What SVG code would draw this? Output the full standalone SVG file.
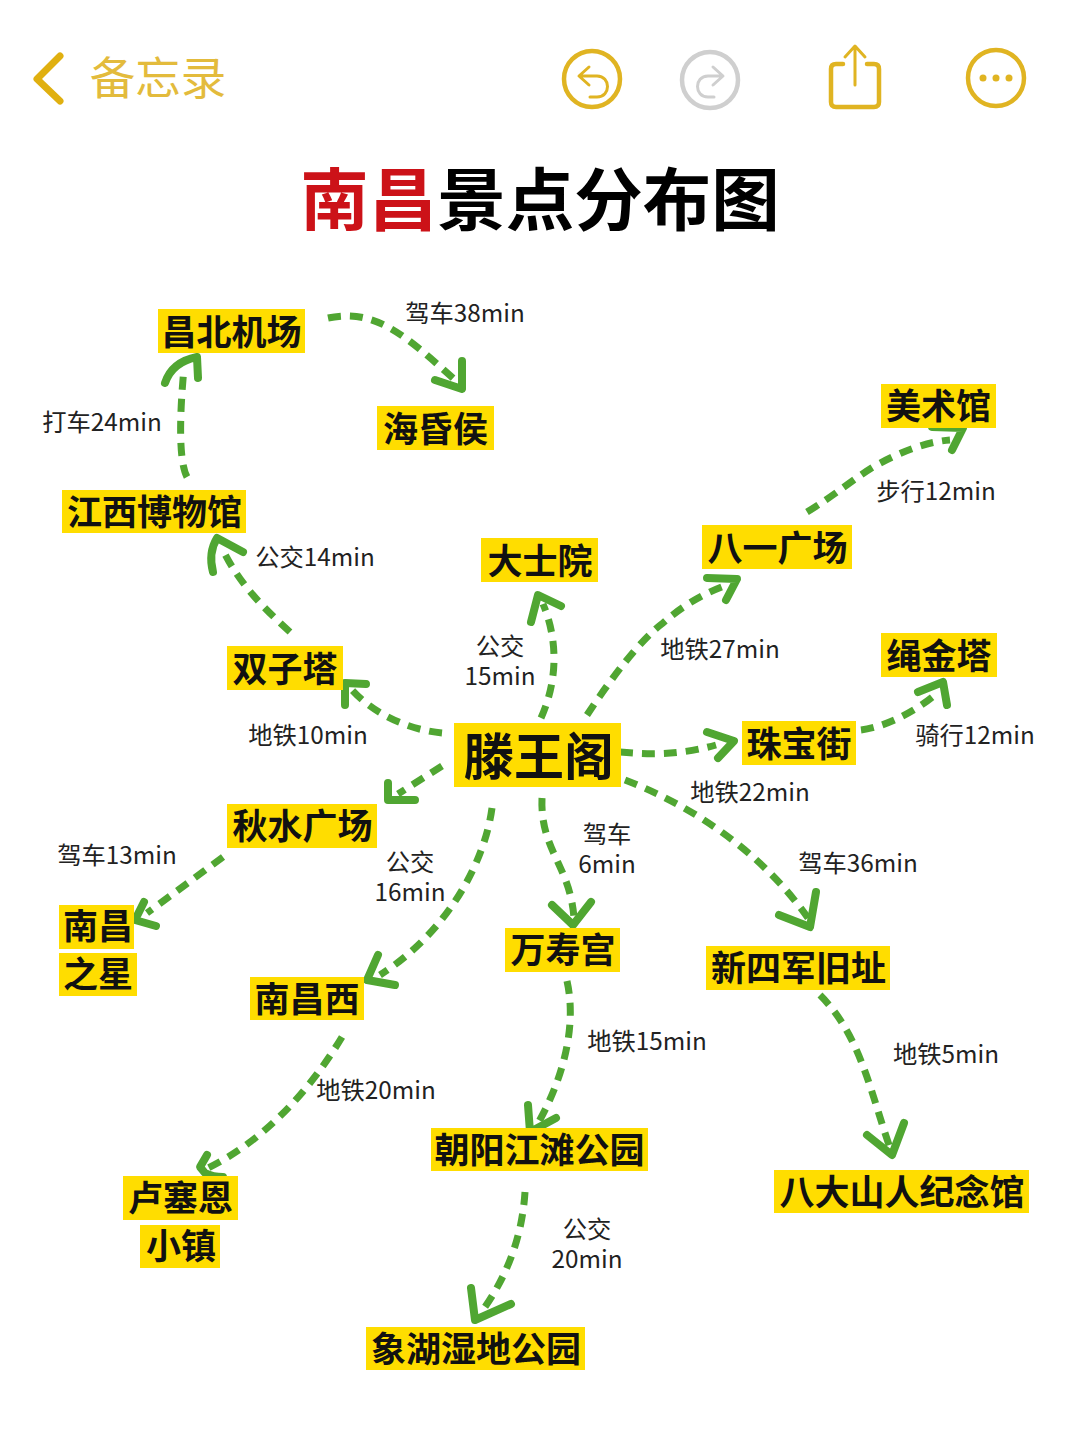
<svg xmlns="http://www.w3.org/2000/svg" width="1080" height="1440" viewBox="0 0 1080 1440">
<style>
text{font-family:"Noto Sans CJK SC","Noto Sans",sans-serif}
.n{font-size:35px;font-weight:700;fill:#111;text-anchor:middle}
.b{fill:#ffdd00}
.l{font-size:24.300px;fill:#222;text-anchor:middle}
.d{fill:none;stroke:#50a632;stroke-width:7;stroke-dasharray:13 9}
.h{fill:none;stroke:#50a632;stroke-width:8;stroke-linecap:round;stroke-linejoin:round}
.i{fill:none;stroke:#e0b422;stroke-width:4.500;stroke-linecap:round;stroke-linejoin:round}
.t{stroke-width:3}
.g{stroke:#cfcfcf}
</style>
<rect width="1080" height="1440" fill="#fff"/>
<g id="toolbar">
<path d="M60,56 L37,79 L60,101" fill="none" stroke="#e0b010" stroke-width="7" stroke-linecap="round" stroke-linejoin="round"/>
<text x="158" y="95" font-size="45.500" fill="#e3bb3c" text-anchor="middle">备忘录</text>
<circle cx="592" cy="79" r="28" class="i"/>
<path d="M589,67 L579,76 L589,85 M580,76 H597 C611,76 611,97 597,97 H590" class="i t"/>
<circle cx="710" cy="80" r="28" class="i g"/>
<path d="M713,67 L723,76 L713,85 M722,76 H708 C694,76 694,97 708,97 H714" class="i g t"/>
<path d="M843,64 H836 Q831,64 831,69 V102 Q831,107 836,107 H874 Q879,107 879,102 V69 Q879,64 874,64 H867" class="i"/>
<path d="M855,85 V47 M845,57 L855,46 L865,57" class="i t"/>
<circle cx="996" cy="78" r="28" class="i"/>
<circle cx="983" cy="78" r="3.500" fill="#e0b422"/><circle cx="996" cy="78" r="3.500" fill="#e0b422"/><circle cx="1009" cy="78" r="3.500" fill="#e0b422"/>
</g>
<g id="title"><text x="540" y="224.500" font-size="68.500" font-weight="700" text-anchor="middle" fill="#000"><tspan fill="#cc1218">南昌</tspan>景点分布图</text></g>
<g id="connectors">
<path class="d" d="M328,318 C375,308 405,335 454,379"/><path class="h" d="M435,380 L462,389 L462,361"/>
<path class="d" d="M187,477 C178,460 180,410 184,368"/><path class="h" d="M165,383 Q172,362 197,357 L198,378"/>
<path class="d" d="M290,632 C260,605 237,580 222,548"/><path class="h" d="M213,572 Q208,553 217,538 L243,552"/>
<path class="d" d="M442,733 C410,730 375,715 352,690"/><path class="h" d="M345,705 L345,683 L366,684"/>
<path class="d" d="M541,718 C558,680 558,640 543,604"/><path class="h" d="M531,622 L538,595 L561,606"/>
<path class="d" d="M587,715 C610,680 640,640 663,623 C680,608 700,595 724,586"/><path class="h" d="M707,578 L737,579 L726,600"/>
<path class="d" d="M807,512 C835,495 855,478 873,467 C900,452 925,442 950,440"/><path class="h" d="M932,427 L963,428 L952,450"/>
<path class="d" d="M620,752 C650,755 680,755 716,745"/><path class="h" d="M707,732 L734,741 L718,758"/>
<path class="d" d="M861,730 C885,727 915,712 936,694"/><path class="h" d="M918,692 L943,682 L947,705"/>
<path class="d" d="M625,780 C690,805 760,850 808,918"/><path class="h" d="M779,915 L810,927 L816,892"/>
<path class="d" d="M442,766 L398,794"/><path class="h" d="M388,783 L388,800 L415,800"/>
<path class="d" d="M223,857 L147,913"/><path class="h" d="M144,902 L135,920 L156,926"/>
<path class="d" d="M492,808 C485,860 450,930 380,975"/><path class="h" d="M378,955 L367,980 L395,985"/>
<path class="d" d="M542,798 C540,850 570,865 574,918"/><path class="h" d="M552,905 L573,925 L591,902"/>
<path class="d" d="M567,981 C578,1030 560,1085 537,1125"/><path class="h" d="M528,1105 L530,1132 L556,1118"/>
<path class="d" d="M820,995 C860,1035 870,1090 890,1148"/><path class="h" d="M867,1135 L892,1155 L904,1123"/>
<path class="d" d="M342,1037 C310,1090 265,1140 208,1168"/><path class="h" d="M207,1155 L200,1167 L205,1173 Q213,1177 223,1177"/>
<path class="d" d="M525,1192 C522,1240 505,1280 480,1314"/><path class="h" d="M471,1288 L475,1320 L511,1304"/>
</g>
<g id="labels">
<text class="l" x="465" y="322">驾车38min</text>
<text class="l" x="102" y="431">打车24min</text>
<text class="l" x="936" y="500">步行12min</text>
<text class="l" x="315" y="566">公交14min</text>
<text class="l" y="655"><tspan x="500">公交</tspan><tspan x="500" dy="30">15min</tspan></text>
<text class="l" x="720" y="658">地铁27min</text>
<text class="l" x="308" y="744">地铁10min</text>
<text class="l" x="975" y="744">骑行12min</text>
<text class="l" x="750" y="801">地铁22min</text>
<text class="l" y="843"><tspan x="607">驾车</tspan><tspan x="607" dy="30">6min</tspan></text>
<text class="l" y="871"><tspan x="410">公交</tspan><tspan x="410" dy="30">16min</tspan></text>
<text class="l" x="117" y="864">驾车13min</text>
<text class="l" x="858" y="872">驾车36min</text>
<text class="l" x="647" y="1050">地铁15min</text>
<text class="l" x="946" y="1063">地铁5min</text>
<text class="l" x="376" y="1099">地铁20min</text>
<text class="l" y="1238"><tspan x="587">公交</tspan><tspan x="587" dy="30">20min</tspan></text>
</g>
<g id="changbei"><rect class="b" x="158" y="309" width="147" height="44"/><text class="n" x="231.500" y="345">昌北机场</text></g>
<g id="haihun"><rect class="b" x="377" y="406" width="117" height="44"/><text class="n" x="435.500" y="442">海昏侯</text></g>
<g id="meishu"><rect class="b" x="881" y="384" width="115" height="44"/><text class="n" x="938.500" y="418.500">美术馆</text></g>
<g id="jiangxi"><rect class="b" x="62" y="490" width="184" height="43"/><text class="n" x="154.500" y="525">江西博物馆</text></g>
<g id="dashi"><rect class="b" x="481" y="538" width="117" height="44"/><text class="n" x="540" y="574">大士院</text></g>
<g id="bayi"><rect class="b" x="702" y="525" width="150" height="44"/><text class="n" x="777.500" y="560.500">八一广场</text></g>
<g id="shuangzi"><rect class="b" x="227" y="646" width="116" height="44"/><text class="n" x="285" y="682">双子塔</text></g>
<g id="shengjin"><rect class="b" x="881" y="633" width="116" height="44"/><text class="n" x="939" y="668.500">绳金塔</text></g>
<g id="tengwang"><rect class="b" x="454" y="723" width="167" height="64"/><text class="n" x="539" y="775" style="font-size:50px">滕王阁</text></g>
<g id="zhubao"><rect class="b" x="742" y="721" width="114" height="44"/><text class="n" x="799" y="757">珠宝街</text></g>
<g id="qiushui"><rect class="b" x="227" y="804" width="150" height="44"/><text class="n" x="302.500" y="839">秋水广场</text></g>
<g id="nanchangzhixing"><rect class="b" x="59" y="905" width="75" height="44"/><rect class="b" x="59" y="953" width="78" height="43"/><text class="n" x="98" y="939">南昌</text><text class="n" x="98" y="987">之星</text></g>
<g id="nanchangxi"><rect class="b" x="250" y="977" width="114" height="43"/><text class="n" x="307" y="1012">南昌西</text></g>
<g id="wanshou"><rect class="b" x="505" y="928" width="115" height="44"/><text class="n" x="563" y="963">万寿宫</text></g>
<g id="xinsijun"><rect class="b" x="706" y="946" width="184" height="44"/><text class="n" x="798.500" y="981">新四军旧址</text></g>
<g id="lusaien"><rect class="b" x="123" y="1176" width="115" height="44"/><rect class="b" x="140" y="1225" width="80" height="43"/><text class="n" x="180.500" y="1211">卢塞恩</text><text class="n" x="181" y="1259">小镇</text></g>
<g id="chaoyang"><rect class="b" x="431" y="1128" width="217" height="43"/><text class="n" x="539.500" y="1163">朝阳江滩公园</text></g>
<g id="bada"><rect class="b" x="774" y="1170" width="255" height="43"/><text class="n" x="902" y="1205">八大山人纪念馆</text></g>
<g id="xianghu"><rect class="b" x="366" y="1327" width="219" height="43"/><text class="n" x="476" y="1362">象湖湿地公园</text></g>
</svg>
